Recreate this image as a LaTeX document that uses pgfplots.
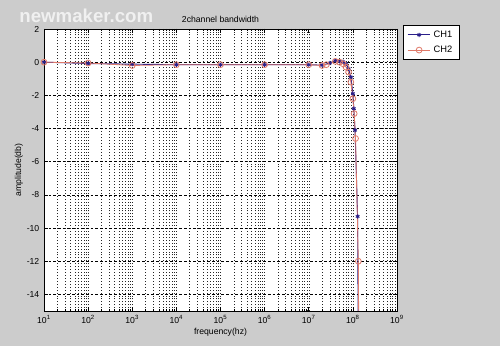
\documentclass[border=0pt]{standalone}
\usepackage{pgfplots}
\pgfplotsset{compat=1.18}
\usepackage{fontspec}
\setmainfont{Liberation Sans}
\usetikzlibrary{backgrounds}
\definecolor{bg}{HTML}{CCCCCC}
\definecolor{chone}{HTML}{2A1F8A}
\definecolor{chtwo}{HTML}{E07A6A}
\begin{document}
\begin{tikzpicture}
\begin{axis}[
  name=ax,
  xmode=log,
  scale only axis,
  width=264.75pt, height=211.5pt,
  xmin=10, xmax=1e9, ymin=-15, ymax=2,
  axis background/.style={fill=white},
  clip=true,
  font=\fontsize{6.5}{7.5}\selectfont,
  /pgf/number format/assume math mode=true,
  xtick={1e1,1e2,1e3,1e4,1e5,1e6,1e7,1e8,1e9},
  xticklabels={10\textsuperscript{1},10\textsuperscript{2},10\textsuperscript{3},10\textsuperscript{4},10\textsuperscript{5},10\textsuperscript{6},10\textsuperscript{7},10\textsuperscript{8},10\textsuperscript{9}},
  ytick={-14,-12,-10,-8,-6,-4,-2,0,2},
  yticklabels={-14,-12,-10,-8,-6,-4,-2,0,2},
  tick align=inside,
  tick style={black, thin},
  major tick length=3pt,
  minor tick length=1.5pt,
  grid=both,
  major x grid style={black!85, dash pattern=on 0.6pt off 1.6pt, line width=0.35pt},
  minor x grid style={black!85, dash pattern=on 0.6pt off 1.6pt, line width=0.35pt},
  major y grid style={black, dash pattern=on 2pt off 1.5pt, line width=0.4pt},
  axis line style={black, line width=0.5pt},
  title={2channel bandwidth},
  title style={yshift=-5pt},
  xlabel={frequency(hz)},
  ylabel={amplitude(db)},
  xlabel style={yshift=3pt},
  ylabel style={yshift=-4pt},
  legend style={at={(1.017,1.014)}, anchor=north west, draw=black, line width=0.4pt,
    font=\fontsize{7}{8}\selectfont, inner xsep=3pt, inner ysep=2pt,
    row sep=1pt, cells={anchor=west}},
  legend cell align=left,
]
\addplot[chone, line width=0.7pt, mark=asterisk, mark size=1.6pt, mark options={line width=0.7pt}] coordinates {
(1e1,0) (1e2,-0.08) (1e3,-0.12) (1e4,-0.15) (1e5,-0.15) (1e6,-0.15) (1e7,-0.15)
(2e7,-0.18) (3e7,-0.05) (4e7,0.1) (5e7,0.05) (6e7,0.02) (7e7,-0.1) (8e7,-0.4)
(9e7,-0.9) (1.0e8,-1.9) (1.05e8,-2.8) (1.12e8,-4.1) (1.28e8,-9.3) (1.32e8,-16)
};
\addlegendentry{CH1}
\addplot[chtwo, line width=0.6pt, mark=o, mark size=2.2pt, mark options={line width=0.6pt}] coordinates {
(1e1,0) (1e2,-0.05) (1e3,-0.2) (1e4,-0.15) (1e5,-0.15) (1e6,-0.15) (1e7,-0.15)
(2e7,-0.2) (2.5e7,-0.15) (4e7,0.05) (5e7,0.0) (6e7,-0.1) (7e7,-0.3) (8e7,-0.6)
(9e7,-1.2) (1.0e8,-2.2) (1.07e8,-3.1) (1.15e8,-4.6) (1.33e8,-12) (1.36e8,-16)
};
\addlegendentry{CH2}
\coordinate (bl) at (rel axis cs:0,0);
\coordinate (tr) at (rel axis cs:1,1);
\end{axis}
\begin{scope}[on background layer]
\fill[bg] ([xshift=-33pt,yshift=-26.25pt]bl) rectangle ([xshift=77.25pt,yshift=21.75pt]tr);
\end{scope}
\node[anchor=west, text=white!88!gray, font=\fontsize{14}{14}\selectfont\bfseries] at ([xshift=-22pt,yshift=10pt]bl|-tr) {newmaker.com};
\end{tikzpicture}
\end{document}
